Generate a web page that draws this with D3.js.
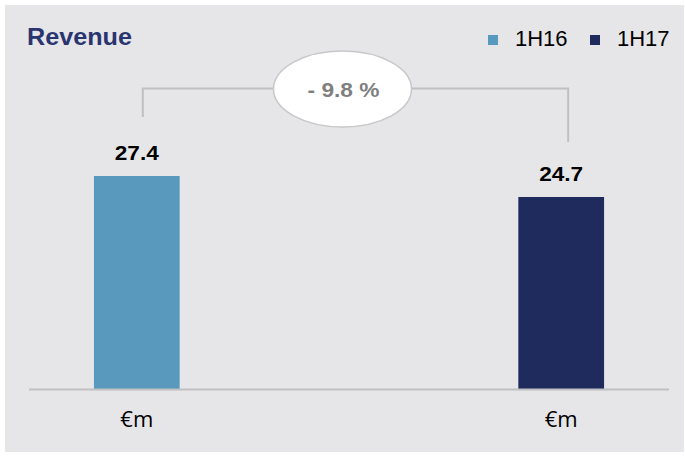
<!DOCTYPE html>
<html lang="en">
<head>
	<meta charset="UTF-8">
	<title>Revenue</title>
	<style>
		body { margin: 0; background: #fff; }
		text { font-family: "Liberation Sans", Arial, sans-serif; }
	</style>
	<script src="https://d3js.org/d3.v7.min.js"></script>
</head>
<body>
	<script type="text/javascript">
		const periods = ["1H16", "1H17"];
		const revenue = [27.4, 24.7];
		const units = ["€m", "€m"];
		const colors = ["#5899bd", "#1f2b5d"];
		const change = "- 9.8 %";

		const width = 685;
		const height = 456;

		const svg = d3.select("body").append("svg")
			.attr("width", width)
			.attr("height", height);

		// grey panel
		svg.append("rect")
			.attr("x", 5).attr("y", 5)
			.attr("width", 679).attr("height", 447)
			.attr("fill", "#e6e6e8");

		const x = d3.scaleBand()
			.domain(periods)
			.range([29, 669])
			.paddingInner(0.798)
			.paddingOuter(0.153);

		const y = d3.scaleLinear()
			.domain([0, 27.4])
			.range([389, 176]);

		// bars
		svg.selectAll(".bar")
			.data(periods)
			.join("rect")
			.classed("bar", true)
			.attr("x", d => x(d))
			.attr("y", (d, i) => y(revenue[i]))
			.attr("width", x.bandwidth())
			.attr("height", (d, i) => y(0) - y(revenue[i]))
			.attr("fill", (d, i) => colors[i]);

		// baseline
		svg.append("line")
			.attr("x1", 29).attr("x2", 669)
			.attr("y1", y(0) + 0.5).attr("y2", y(0) + 0.5)
			.attr("stroke", "#c0c0c2")
			.attr("stroke-width", 2);

		// value labels
		svg.selectAll(".val")
			.data(periods)
			.join("text")
			.classed("val", true)
			.attr("x", d => x(d) + x.bandwidth() / 2)
			.attr("y", (d, i) => y(revenue[i]) - 16)
			.attr("text-anchor", "middle")
			.attr("font-size", 21)
			.attr("font-weight", "bold")
			.attr("textLength", 44)
			.attr("lengthAdjust", "spacingAndGlyphs")
			.attr("fill", "#000")
			.text((d, i) => revenue[i].toFixed(1));

		// unit labels under axis
		svg.selectAll(".unit")
			.data(periods)
			.join("text")
			.classed("unit", true)
			.attr("x", d => x(d) + x.bandwidth() / 2)
			.attr("y", 427)
			.attr("text-anchor", "middle")
			.attr("font-size", 22)
			.style("font-family", "'Open Sans', sans-serif")
			.attr("fill", "#000")
			.text((d, i) => units[i]);

		// change bracket
		const bx1 = x(periods[0]) + x.bandwidth() / 2 + 6;
		const bx2 = x(periods[1]) + x.bandwidth() / 2 + 7;
		const by = 88.5;
		svg.append("path")
			.attr("d", `M${bx1},${y(revenue[0]) - 59} V${by} H${bx2} V${y(revenue[1]) - 55}`)
			.attr("fill", "none")
			.attr("stroke", "#c0c0c2")
			.attr("stroke-width", 2);

		const cx = (bx1 + bx2) / 2 - 13;
		svg.append("ellipse")
			.attr("cx", cx).attr("cy", 89)
			.attr("rx", 69).attr("ry", 38)
			.attr("fill", "#fff")
			.attr("stroke", "#c8c8ca")
			.attr("stroke-width", 1.5);
		svg.append("text")
			.attr("x", cx + 1).attr("y", 97)
			.attr("text-anchor", "middle")
			.attr("font-size", 21)
			.attr("font-weight", "bold")
			.attr("textLength", 72)
			.attr("lengthAdjust", "spacingAndGlyphs")
			.attr("fill", "#7f7f7f")
			.text(change);

		// title
		svg.append("text")
			.attr("x", 27).attr("y", 45)
			.attr("font-size", 24)
			.attr("font-weight", "bold")
			.attr("textLength", 105)
			.attr("lengthAdjust", "spacingAndGlyphs")
			.attr("fill", "#2a3570")
			.text("Revenue");

		// legend
		const legendX = [488, 590];
		const legend = svg.selectAll(".legend")
			.data(periods)
			.join("g")
			.classed("legend", true)
			.attr("transform", (d, i) => `translate(${legendX[i]},35)`);
		legend.append("rect")
			.attr("width", 10).attr("height", 10)
			.attr("fill", (d, i) => colors[i]);
		legend.append("text")
			.attr("x", 27).attr("y", 11)
			.attr("font-size", 22)
			.attr("fill", "#000")
			.text(d => d);
	</script>
</body>
</html>
